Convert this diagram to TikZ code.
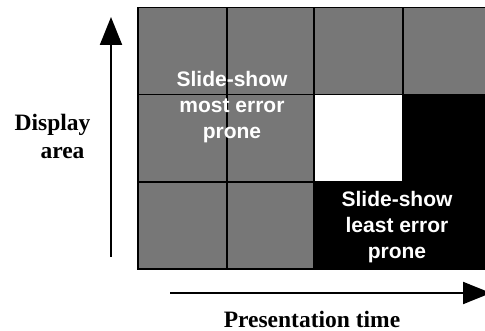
\documentclass[tikz,border=0pt]{standalone}
\usepackage{fontspec}
\setmainfont{Liberation Serif}
\setsansfont{Liberation Sans}
\usetikzlibrary{arrows.meta}
\definecolor{cellgray}{RGB}{119,119,119}
\tikzset{
	axis/.style={line width=2pt, -{Triangle[length=28pt,width=22pt]}},
	cellnote/.style={text=white, align=center, font=\sffamily\bfseries\fontsize{21}{26}\selectfont},
	axislabel/.style={font=\bfseries\fontsize{23.5}{27}\selectfont}
}
\begin{document}
\begin{tikzpicture}[x=1pt,y=1pt]
		\tikzstyle{every node}+=[inner sep=0pt]
		\useasboundingbox (0,0) rectangle (485,-331);
		% cells
		\fill [cellgray] (138,-7.5) rectangle (491,-94.5);
		\fill [cellgray] (138,-94.5) rectangle (314,-269);
		\fill [white] (314,-94.5) rectangle (403,-182);
		\fill [black] (403,-94.5) rectangle (491,-182);
		\fill [black] (314,-182) rectangle (491,-269);
		% grid lines
		\draw [black, line width=1.6pt] (138,-7.5) rectangle (491,-269);
		\draw [black, line width=1.6pt] (227,-7.5) -- (227,-269);
		\draw [black, line width=1.6pt] (314,-7.5) -- (314,-269);
		\draw [black, line width=1.6pt] (403,-7.5) -- (403,-269);
		\draw [black, line width=1.6pt] (138,-94.5) -- (491,-94.5);
		\draw [black, line width=1.6pt] (138,-182) -- (491,-182);
		% notes
		\node (most) [cellnote] at (232,-107) {Slide-show\\most error\\prone};
		\node (least) [cellnote] at (397,-227) {Slide-show\\least error\\prone};
		% axes
		\coordinate (up0) at (111,-257);
		\coordinate (up1) at (111,-17);
		\draw [axis] (up0) -- (up1);
		\coordinate (rt0) at (170,-293);
		\coordinate (rt1) at (491,-293);
		\draw [axis] (rt0) -- (rt1);
		\node (display) [axislabel] at (52.5,-125) {Display};
		\node (area) [axislabel] at (62.5,-153) {area};
		\node (time) [axislabel] at (312,-319.5) {Presentation time};
	\end{tikzpicture}
\end{document}
